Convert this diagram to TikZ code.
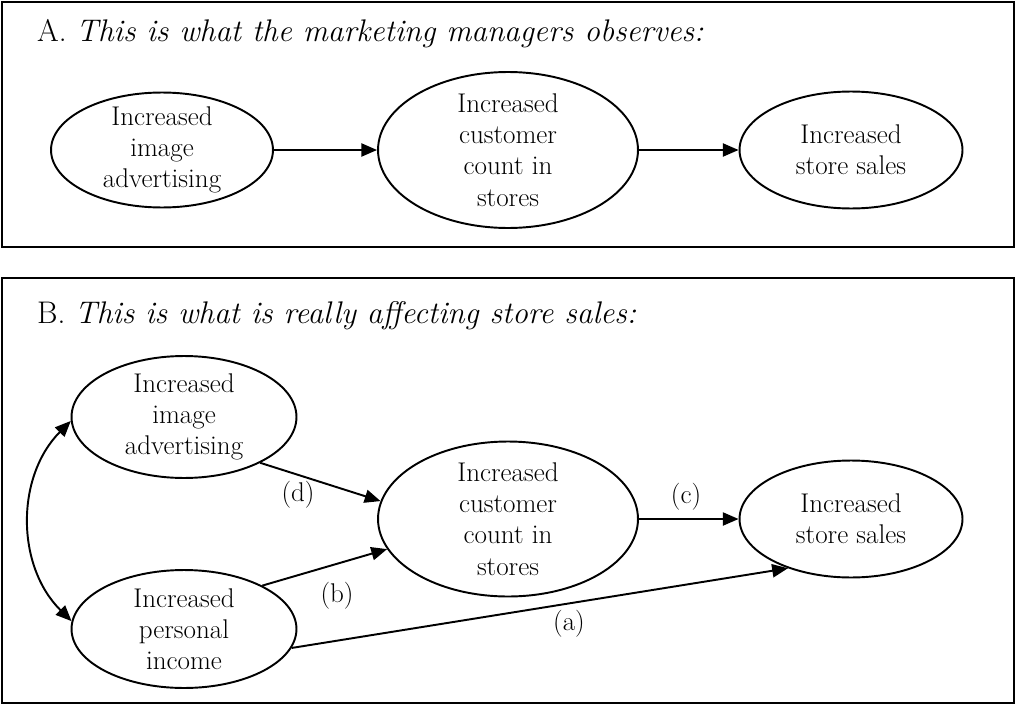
\documentclass[tikz,border=0pt]{standalone}
\usepackage{tikz}
\usetikzlibrary{arrows.meta, shapes.geometric}

\begin{document}
\begin{tikzpicture}[x=0.02cm, y=-0.02cm, >={Triangle[length=9pt,width=7.5pt]},
  every node/.style={font=\fontsize{15.4}{17.8}\selectfont},
  bubble/.style={draw, ellipse, line width=1.1pt, inner sep=0pt},
  txt/.style={align=center},
  link/.style={->, line width=1.1pt},
  panel/.style={draw, line width=1.2pt},
  heading/.style={anchor=base west, font=\fontsize{17.8}{21}\selectfont}]
  \useasboundingbox (0,0) rectangle (1017,706);

  % A: what the managers see
  \draw[panel] (2,2) rectangle (1014,247);
  \node[heading] (titleA) at (31,42) {A.\ \itshape This is what the marketing managers observes:};

  \node[bubble, minimum width=4.44cm, minimum height=2.3cm, label={[txt]center:Increased\\image\\advertising}] (adA) at (162,150) {};
  \node[bubble, minimum width=5.2cm, minimum height=3.12cm, label={[txt]center:Increased\\customer\\count in\\stores}] (custA) at (508,150) {};
  \node[bubble, minimum width=4.46cm, minimum height=2.34cm, label={[txt]center:Increased\\store sales}] (salesA) at (851,150) {};

  \draw[link] (adA) -- (custA);
  \draw[link] (custA) -- (salesA);

  % B: what really drives sales
  \draw[panel] (2,278) rectangle (1014,703);
  \node[heading] (titleB) at (31,323) {B.\ \itshape This is what is really affecting store sales:};

  \node[bubble, minimum width=4.5cm, minimum height=2.44cm, label={[txt]center:Increased\\image\\advertising}] (adB) at (184,417) {};
  \node[bubble, minimum width=4.5cm, minimum height=2.36cm, label={[txt]center:Increased\\personal\\income}] (income) at (184,629) {};
  \node[bubble, minimum width=5.2cm, minimum height=3.1cm, label={[txt]center:Increased\\customer\\count in\\stores}] (custB) at (508,519) {};
  \node[bubble, minimum width=4.46cm, minimum height=2.34cm, label={[txt]center:Increased\\store sales}] (salesB) at (851,519) {};

  \draw[link] (adB.-31) -- (custB.172);
  \draw[link] (income.29) -- (custB.194);
  \draw[link] (custB) -- (salesB);
  \draw[link] (income.-10) -- (salesB.218);
  \draw[link, <->] (adB.182) to[bend right=45] (income.176);

  \node (lblD) at (298,495) {(d)};
  \node (lblC) at (686,497) {(c)};
  \node (lblB) at (337,596) {(b)};
  \node (lblA) at (569,624) {(a)};
\end{tikzpicture}
\end{document}
